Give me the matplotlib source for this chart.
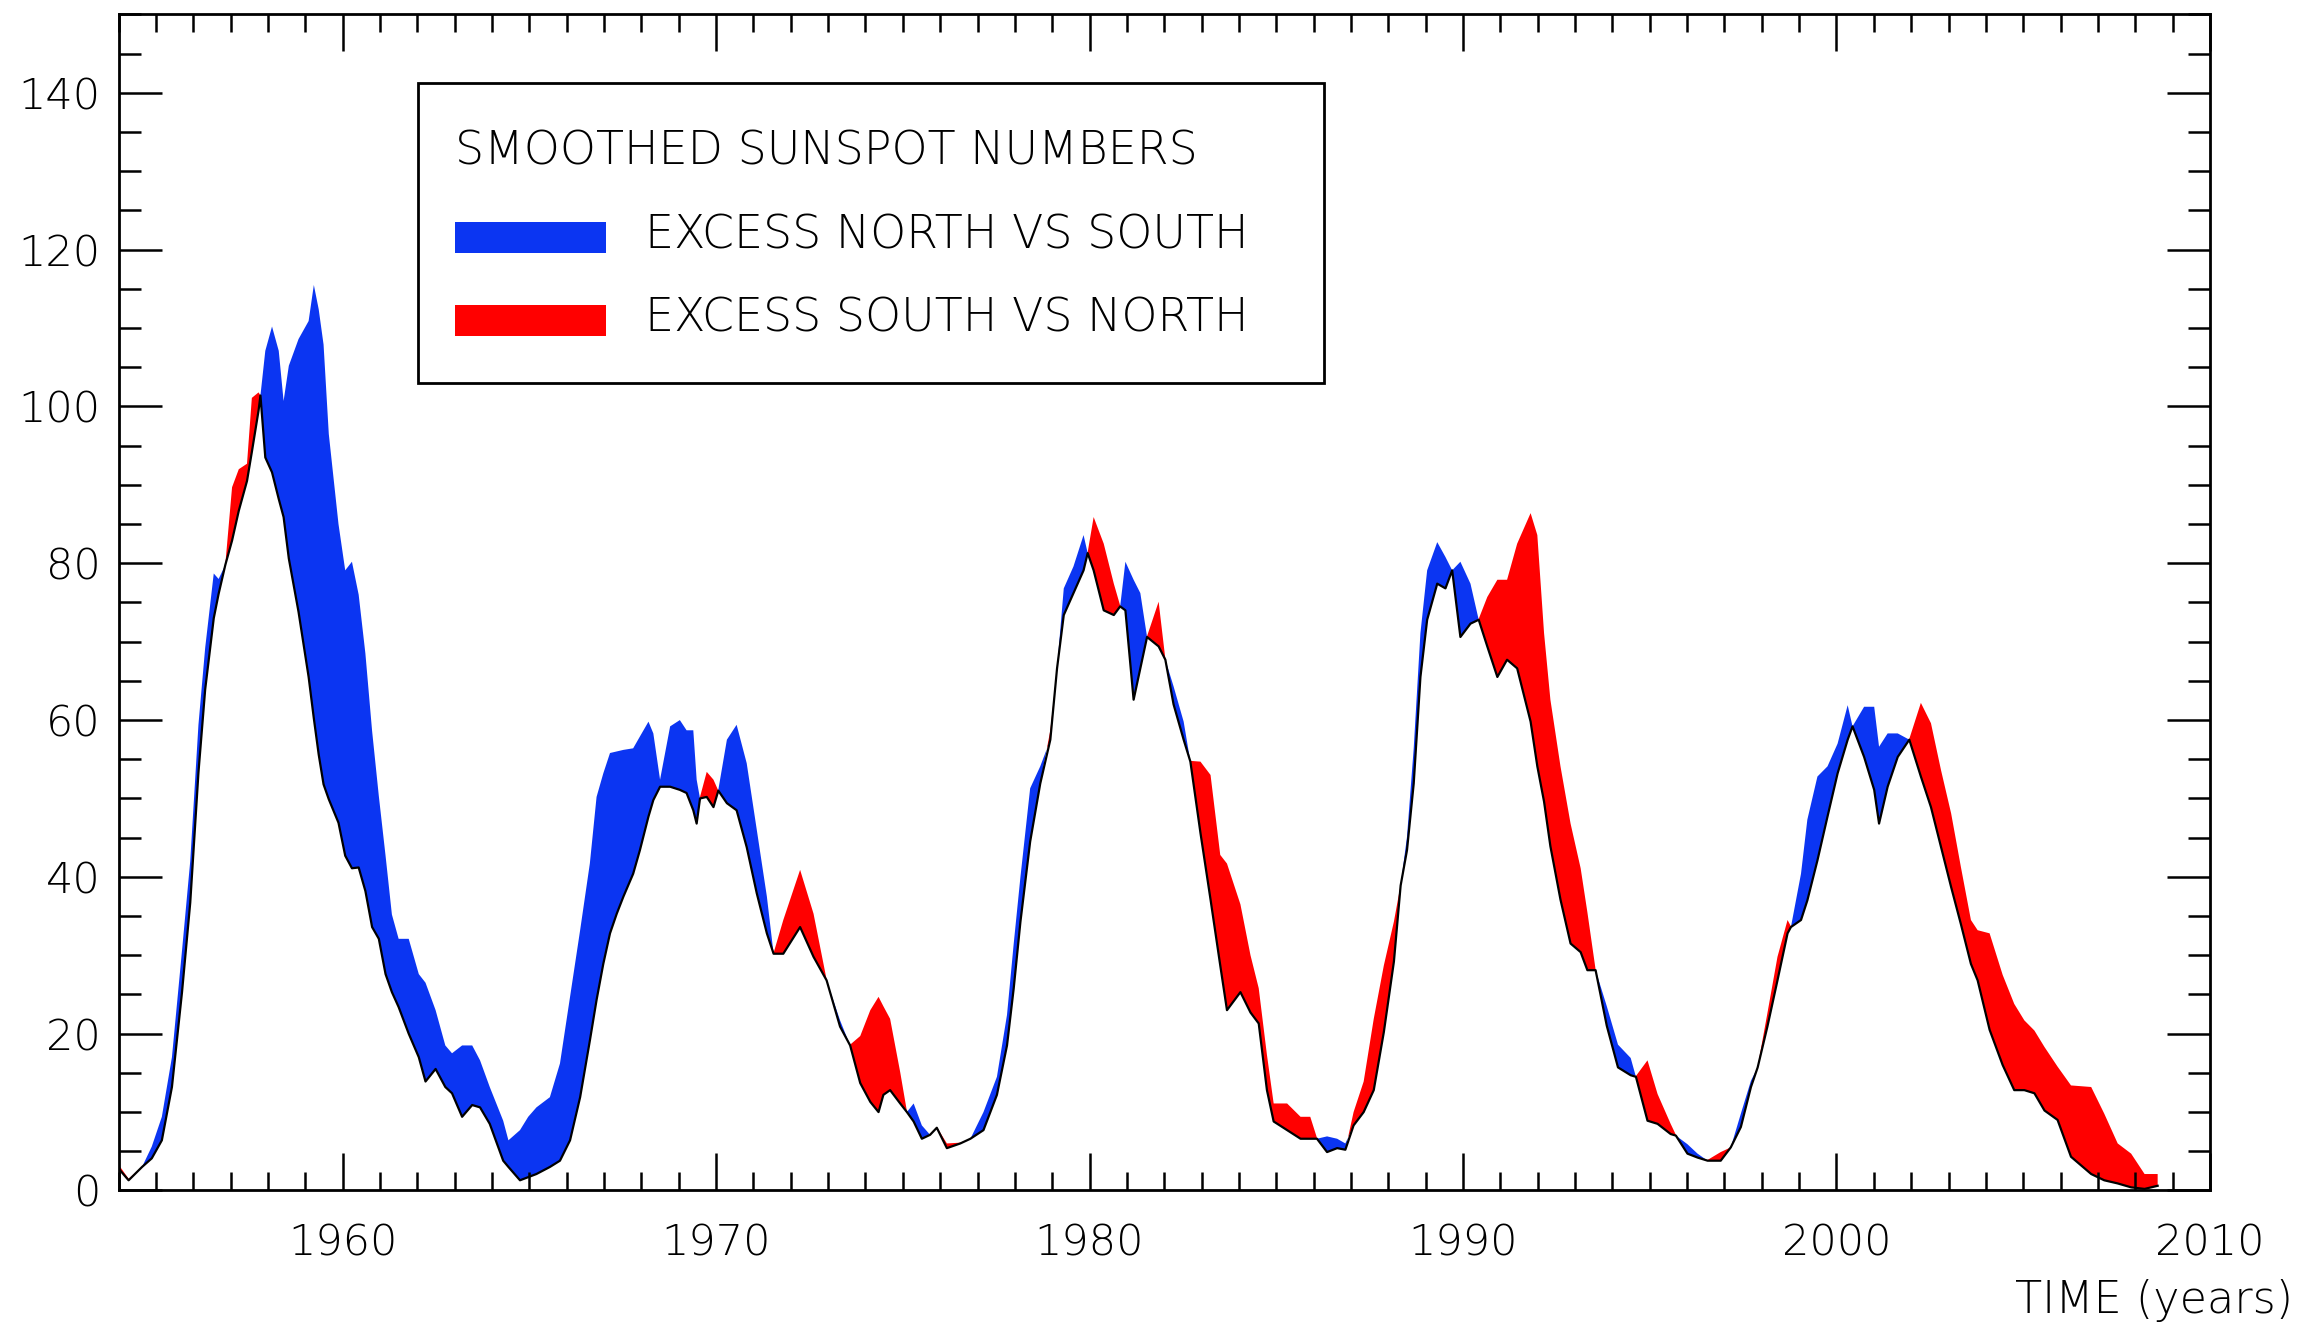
import numpy as np
import matplotlib
matplotlib.use("Agg")
from matplotlib import pyplot as plt
from matplotlib.patches import Rectangle
from matplotlib.ticker import MultipleLocator

# smoothed sunspot numbers (north / south hemisphere)
years = [
    1954.00, 1954.27, 1954.63, 1954.89, 1955.16, 1955.43, 1955.70, 1955.92, 1956.14, 1956.32,
    1956.55, 1956.68, 1956.86, 1957.04, 1957.22, 1957.44, 1957.57, 1957.75, 1957.80, 1957.93,
    1958.11, 1958.29, 1958.42, 1958.56, 1958.82, 1959.09, 1959.23, 1959.36, 1959.49, 1959.63,
    1959.89, 1960.07, 1960.25, 1960.43, 1960.61, 1960.79, 1960.97, 1961.15, 1961.32, 1961.50,
    1961.77, 1962.04, 1962.22, 1962.49, 1962.75, 1962.93, 1963.20, 1963.47, 1963.68, 1963.94,
    1964.30, 1964.44, 1964.75, 1964.97, 1965.19, 1965.55, 1965.82, 1966.09, 1966.36, 1966.62,
    1966.80, 1966.98, 1967.16, 1967.34, 1967.52, 1967.78, 1967.96, 1968.19, 1968.32, 1968.50,
    1968.77, 1969.03, 1969.21, 1969.39, 1969.48, 1969.57, 1969.75, 1969.93, 1970.06, 1970.29,
    1970.55, 1970.82, 1971.09, 1971.36, 1971.54, 1971.80, 1972.25, 1972.61, 1972.96, 1973.32,
    1973.59, 1973.86, 1974.13, 1974.35, 1974.48, 1974.66, 1974.93, 1975.11, 1975.29, 1975.51,
    1975.73, 1975.91, 1976.18, 1976.54, 1976.81, 1977.16, 1977.52, 1977.79, 1977.97, 1978.15,
    1978.41, 1978.68, 1978.95, 1979.13, 1979.31, 1979.57, 1979.84, 1979.95, 1980.11, 1980.38,
    1980.65, 1980.82, 1980.96, 1981.18, 1981.36, 1981.54, 1981.85, 1982.03, 1982.25, 1982.52,
    1982.70, 1982.97, 1983.24, 1983.50, 1983.68, 1984.04, 1984.31, 1984.53, 1984.75, 1984.93,
    1985.29, 1985.65, 1985.91, 1986.09, 1986.36, 1986.63, 1986.85, 1987.07, 1987.34, 1987.61,
    1987.88, 1988.15, 1988.33, 1988.50, 1988.68, 1988.86, 1989.04, 1989.31, 1989.53, 1989.71,
    1989.93, 1990.20, 1990.42, 1990.65, 1990.92, 1991.18, 1991.45, 1991.81, 1991.99, 1992.17,
    1992.34, 1992.61, 1992.88, 1993.15, 1993.33, 1993.55, 1993.85, 1994.15, 1994.49, 1994.63,
    1994.94, 1995.21, 1995.56, 1995.70, 1996.01, 1996.28, 1996.55, 1996.90, 1997.17, 1997.44,
    1997.71, 1997.89, 1998.15, 1998.42, 1998.69, 1998.78, 1999.05, 1999.22, 1999.49, 1999.76,
    2000.03, 2000.30, 2000.43, 2000.74, 2001.01, 2001.14, 2001.37, 2001.64, 2001.95, 2002.26,
    2002.53, 2002.80, 2003.07, 2003.33, 2003.60, 2003.78, 2004.10, 2004.45, 2004.76, 2005.03,
    2005.30, 2005.57, 2005.92, 2006.28, 2006.82, 2007.17, 2007.53, 2007.89, 2008.25, 2008.60,
]
north = [
    2.8, 1.3, 3.0, 5.6, 9.4, 17.0, 30.6, 42.0, 59.4, 69.2,
    78.7, 78.0, 79.8, 82.9, 86.7, 90.5, 94.2, 99.5, 101.4, 107.1,
    110.2, 107.1, 100.7, 105.2, 108.6, 110.9, 115.5, 112.4, 107.9, 96.5,
    85.0, 79.1, 80.2, 76.0, 68.5, 58.6, 50.3, 42.7, 35.2, 32.1,
    32.1, 27.6, 26.5, 23.0, 18.5, 17.5, 18.5, 18.5, 16.6, 13.2,
    8.9, 6.4, 7.7, 9.4, 10.6, 11.9, 16.2, 24.7, 33.2, 41.7,
    50.2, 53.2, 55.8, 56.0, 56.2, 56.4, 57.9, 59.8, 58.3, 52.4,
    59.2, 60.0, 58.7, 58.7, 52.4, 50.0, 50.2, 48.9, 51.1, 57.5,
    59.4, 54.5, 46.0, 37.5, 30.2, 30.2, 33.6, 29.8, 26.8, 21.7,
    18.5, 13.7, 11.3, 10.0, 12.2, 12.8, 11.1, 10.0, 11.1, 8.3,
    7.1, 8.0, 5.4, 6.0, 6.6, 10.0, 14.5, 22.4, 31.5, 40.0,
    51.3, 54.1, 57.5, 66.6, 76.8, 79.6, 83.6, 81.3, 79.1, 74.0,
    73.4, 74.5, 80.2, 77.9, 76.2, 70.6, 69.4, 67.7, 64.3, 59.8,
    54.7, 45.6, 37.1, 28.7, 23.0, 25.3, 22.7, 21.3, 12.8, 8.8,
    7.7, 6.6, 6.6, 6.6, 6.9, 6.6, 6.0, 8.3, 10.0, 12.8,
    20.2, 29.2, 38.9, 45.1, 56.4, 71.1, 79.1, 82.7, 80.8, 79.1,
    80.2, 77.4, 72.8, 69.4, 65.5, 67.7, 66.6, 59.8, 54.1, 49.6,
    43.9, 37.1, 31.5, 30.4, 28.1, 28.1, 23.5, 18.6, 16.9, 14.5,
    8.9, 8.5, 7.2, 7.0, 5.9, 4.7, 3.8, 3.8, 5.5, 9.8,
    14.0, 15.7, 20.9, 26.8, 32.8, 33.6, 40.4, 47.3, 52.8, 54.1,
    57.0, 61.9, 59.2, 61.7, 61.7, 56.6, 58.3, 58.3, 57.5, 52.8,
    48.9, 43.8, 38.7, 34.0, 28.9, 26.8, 20.5, 16.0, 12.8, 12.8,
    12.4, 10.2, 9.0, 4.3, 2.1, 1.3, 0.9, 0.4, 0.2, 0.6,
]
south = [
    3.3, 1.5, 3.0, 4.1, 6.4, 13.2, 25.3, 36.7, 53.3, 63.9,
    73.0, 76.1, 79.9, 89.7, 92.0, 92.7, 101.1, 101.8, 101.4, 93.5,
    91.6, 88.2, 85.9, 80.6, 73.8, 65.5, 60.2, 55.6, 51.8, 49.9,
    46.9, 42.7, 41.1, 41.2, 38.2, 33.6, 32.1, 27.6, 25.3, 23.4,
    20.0, 17.0, 13.9, 15.5, 13.2, 12.4, 9.4, 10.9, 10.6, 8.5,
    3.8, 3.0, 1.3, 1.7, 2.1, 3.0, 3.8, 6.4, 11.9, 19.1,
    24.3, 28.9, 32.8, 35.3, 37.5, 40.4, 43.4, 47.7, 49.8, 51.5,
    51.5, 51.1, 50.7, 48.5, 46.8, 50.2, 53.4, 52.4, 51.0, 49.4,
    48.5, 43.8, 37.9, 32.8, 30.3, 34.5, 40.9, 35.3, 26.9, 20.9,
    18.6, 19.7, 23.0, 24.7, 23.5, 21.9, 15.1, 10.1, 8.8, 6.6,
    7.2, 8.1, 6.0, 6.1, 6.6, 7.7, 12.2, 18.5, 25.8, 34.3,
    44.5, 51.9, 58.7, 66.6, 73.4, 76.2, 79.1, 81.4, 85.9, 82.5,
    77.4, 74.6, 74.0, 62.6, 66.6, 70.7, 75.1, 67.8, 62.0, 57.5,
    54.8, 54.7, 53.0, 42.8, 41.7, 36.5, 30.0, 25.8, 17.3, 11.1,
    11.1, 9.4, 9.4, 6.7, 4.9, 5.4, 5.2, 10.0, 13.9, 21.9,
    28.7, 34.3, 39.0, 43.4, 51.9, 65.5, 72.8, 77.4, 76.8, 79.2,
    70.6, 72.3, 72.9, 75.7, 77.9, 77.9, 82.5, 86.4, 83.6, 71.1,
    62.6, 54.1, 46.8, 41.1, 35.5, 28.2, 21.0, 15.7, 14.7, 14.6,
    16.6, 12.3, 8.5, 7.1, 4.7, 4.2, 3.9, 4.9, 5.5, 8.1,
    13.2, 15.8, 22.6, 29.8, 34.5, 33.7, 34.5, 37.0, 42.1, 47.7,
    53.2, 57.5, 59.3, 55.3, 51.1, 46.8, 51.5, 55.3, 57.6, 62.2,
    59.6, 53.6, 48.1, 41.3, 34.5, 33.2, 32.8, 27.5, 23.8, 21.7,
    20.4, 18.3, 15.8, 13.4, 13.2, 9.8, 6.0, 4.7, 2.1, 2.1,
]

legend_title = "SMOOTHED SUNSPOT NUMBERS"
legend_labels = ["EXCESS NORTH VS SOUTH", "EXCESS SOUTH VS NORTH"]

BLUE = "#0b35f2"
RED = "#ff0000"

plt.rcParams['font.family'] = ['DejaVu Sans']
plt.rcParams['font.weight'] = 'light'
plt.rcParams['axes.linewidth'] = 2.0

t = np.array(years)
n = np.array(north)
s = np.array(south)

fig = plt.figure(figsize=(22.97, 13.30), dpi=100)
ax = fig.add_axes([0.0516, 0.1049, 0.9105, 0.8842])

# blue where north leads, red where south leads
ax.fill_between(t, n, s, where=n >= s, interpolate=True, color=BLUE, lw=0)
ax.fill_between(t, n, s, where=s > n, interpolate=True, color=RED, lw=0)
ax.plot(t, np.minimum(n, s), color="black", lw=1.6)

ax.set_xlim(1954, 2010)
ax.set_ylim(0, 150)
ax.xaxis.set_major_locator(MultipleLocator(10))
ax.xaxis.set_minor_locator(MultipleLocator(1))
ax.yaxis.set_major_locator(MultipleLocator(20))
ax.yaxis.set_minor_locator(MultipleLocator(5))

ax.tick_params(which='both', direction='in', top=True, right=True, width=1.8, labelsize=31)
ax.tick_params(axis='x', which='major', length=26.5, pad=23)
ax.tick_params(axis='x', which='minor', length=13)
ax.tick_params(axis='y', which='major', length=31, pad=13)
ax.tick_params(axis='y', which='minor', length=16)

fig.text(0.9983, 1 - 1301 / 1330, "TIME (years)", ha='right', va='center', fontsize=32)

# legend box drawn by hand, like the original
ax.add_patch(Rectangle((0.1432, 0.6866), 0.5764 - 0.1432, 0.942 - 0.6866,
                       transform=ax.transAxes, fill=False, lw=2.0, ec='black', zorder=5))
ax.text(0.1609, 0.8839, legend_title, transform=ax.transAxes,
        ha='left', va='center', fontsize=33, zorder=6)
for col, lab, yc in [(BLUE, legend_labels[0], 0.8104), (RED, legend_labels[1], 0.7394)]:
    ax.add_patch(Rectangle((0.1609, yc - 0.0132), 0.0722, 0.0264,
                           transform=ax.transAxes, color=col, lw=0, zorder=6))
    ax.text(0.2517, yc + 0.002, lab, transform=ax.transAxes,
            ha='left', va='center', fontsize=33, zorder=6)

fig.savefig("out.png", dpi=100, facecolor="white")
